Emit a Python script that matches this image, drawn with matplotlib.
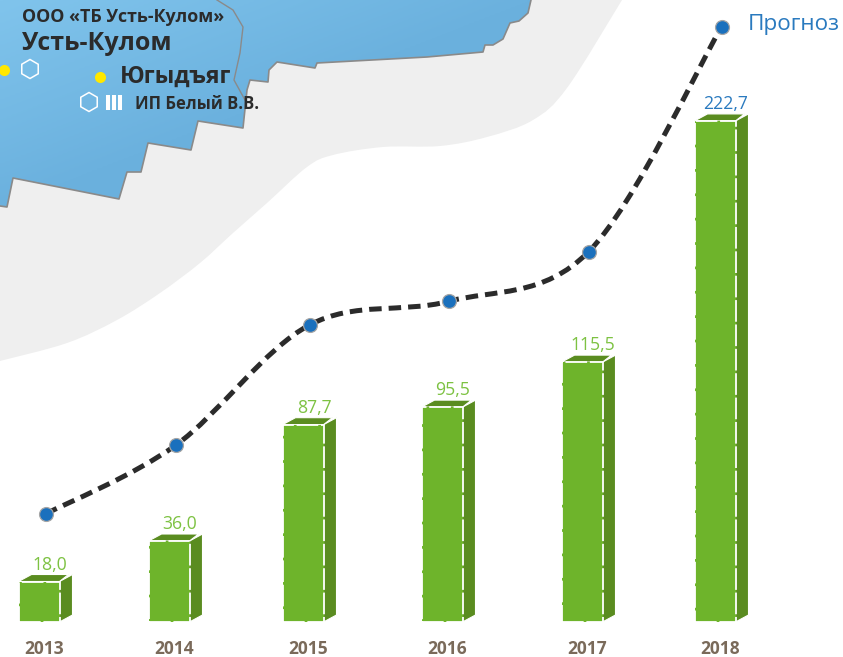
import numpy as np
import matplotlib
matplotlib.use("Agg")
import matplotlib.pyplot as plt
from matplotlib.colors import LinearSegmentedColormap
from matplotlib.patches import PathPatch, Polygon, RegularPolygon
from matplotlib.path import Path

plt.rcParams['font.family'] = ['Open Sans', 'DejaVu Sans']

years = ['2013', '2014', '2015', '2016', '2017', '2018']
volumes = [18.0, 36.0, 87.7, 95.5, 115.5, 222.7]
volume_labels = ['18,0', '36,0', '87,7', '95,5', '115,5', '222,7']
trend = [48.0, 78.5, 132.0, 142.5, 164.5, 264.5]

# столбцы расставлены в оригинале неравномерно
bar_x = [39, 169, 303, 442, 582, 715]

# контуры карты на фоне, в пикселях картинки
grey_x = [622, 567, 533, 487, 440, 383, 333, 307, 267, 233, 200, 160, 117, 67, 0]
grey_y = [0, 88, 120, 137, 146, 147, 155, 167, 203, 233, 263, 293, 320, 343, 361]
blue_x = [0, 531, 528, 519, 510, 503, 493, 485, 483, 427, 317, 315, 277, 269, 268, 250, 247, 243,
          198, 191, 148, 141, 127, 119, 13, 7, 0]
blue_y = [0, 0, 13, 21, 23, 39, 45, 45, 52, 57, 63, 68, 62, 70, 82, 80, 90, 128,
          121, 150, 143, 172, 172, 199, 178, 207, 206]
river_x = [217, 233, 243, 240, 234, 245]
river_y = [0, 10, 27, 53, 80, 100]

GREEN_FRONT = '#6eb42b'
GREEN_DARK = '#5a8c20'
DARK_TEXT = '#2b2b2b'
BLUE = '#1a70bd'

W, H = 843, 657
PX_PER_UNIT = 2.25
BASE_Y = 622
DEPTH_X = 13
DEPTH_Y = 7 / PX_PER_UNIT
BAR_W = 41


def smooth_path(xs, ys):
    """Сглаженная кривая через точки (Катмулл-Ром в виде кривых Безье)."""
    pts = np.column_stack([xs, ys])
    verts = [pts[0]]
    codes = [Path.MOVETO]
    for i in range(len(pts) - 1):
        p0 = pts[max(i - 1, 0)]
        p1 = pts[i]
        p2 = pts[i + 1]
        p3 = pts[min(i + 2, len(pts) - 1)]
        verts += [p1 + (p2 - p0) / 6, p2 - (p3 - p1) / 6, p2]
        codes += [Path.CURVE4] * 3
    return Path(verts, codes)


fig = plt.figure(figsize=(W / 100, H / 100), dpi=100)

# фон: карта в пиксельных координатах
bg = fig.add_axes([0, 0, 1, 1])
bg.axis('off')

edge = smooth_path(grey_x, grey_y)
grey_path = Path(list(edge.vertices) + [(0, 0), (0, 0)],
                 list(edge.codes) + [Path.LINETO, Path.CLOSEPOLY])
bg.add_patch(PathPatch(grey_path, fc='#efefef', ec='none'))

cmap = LinearSegmentedColormap.from_list('map', ['#80c4ec', '#6bb1de', '#66abd9'])
gx, gy = np.meshgrid(np.linspace(0, 1, 100), np.linspace(0, 1, 100))
im = bg.imshow(gx + gy, cmap=cmap, extent=[0, 531, 207, 0], aspect='auto', zorder=1)
blue_shape = Polygon(np.column_stack([blue_x, blue_y]), closed=True, fc='none', ec='none', zorder=2)
bg.add_patch(blue_shape)
im.set_clip_path(blue_shape)
bg.plot(blue_x[1:], blue_y[1:], color='#8a8a8a', lw=1.2, zorder=2)
bg.plot(river_x, river_y, color='#8a8a8a', lw=1.0, zorder=2)
bg.set_xlim(0, W)
bg.set_ylim(H, 0)

bg.text(22, 17, 'ООО «ТБ Усть-Кулом»', fontsize=12.9, fontweight='bold', color=DARK_TEXT,
        va='center', zorder=3)
bg.text(22, 44, 'Усть-Кулом', fontsize=18, fontweight='bold', color=DARK_TEXT,
        va='center', zorder=3)
bg.text(120, 77, 'Югыдъяг', fontsize=16.6, fontweight='bold', color=DARK_TEXT,
        va='center', zorder=3)
bg.text(135, 104, 'ИП Белый В.В.', fontsize=12, fontweight='bold', color=DARK_TEXT,
        va='center', zorder=3)

bg.plot([4, 100], [70, 77], 'o', color='#ffe800', ms=8, mew=0, ls='none', zorder=3)
for cx, cy in [(30, 69), (89, 102)]:
    bg.add_patch(RegularPolygon((cx, cy), 6, radius=9.5, fc='none', ec='white', lw=1.1, zorder=3))
for cx in [108, 114, 120]:
    bg.plot([cx, cx], [95, 110], color='white', lw=2.9, solid_capstyle='butt', zorder=3)

# столбцы и линия: ось значений
ax = fig.add_axes([0, 0, 1, 1], facecolor='none')
ax.set_xlim(0, W)
ax.set_ylim((BASE_Y - H) / PX_PER_UNIT, BASE_Y / PX_PER_UNIT)
ax.axis('off')

ax.bar(bar_x, volumes, width=BAR_W, color=GREEN_FRONT, edgecolor='white', linewidth=1.3,
       linestyle=(0, (12, 1.5)), zorder=3)

for x, v, label, year in zip(bar_x, volumes, volume_labels, years):
    right = x + BAR_W / 2
    left = x - BAR_W / 2
    side = [(right, 0), (right + DEPTH_X, DEPTH_Y), (right + DEPTH_X, v + DEPTH_Y), (right, v)]
    top = [(left, v), (left + DEPTH_X, v + DEPTH_Y), (right + DEPTH_X - 4, v + DEPTH_Y), (right, v)]
    ax.add_patch(Polygon(side, closed=True, fc=GREEN_DARK, ec='white', lw=0.8, zorder=2))
    ax.add_patch(Polygon(top, closed=True, fc=GREEN_DARK, ec='white', lw=0.8, zorder=2))

    color = '#2a7abf' if year == '2018' else '#7dc242'
    ax.annotate(label, (x + 11, v), xytext=(0, 17), textcoords='offset pixels', ha='center',
                va='center', fontsize=12.7, color=color)
    ax.annotate(year, (x + 5, 0), xytext=(0, -27), textcoords='offset pixels', ha='center',
                va='center', fontsize=12.5, fontweight='bold', color='#7a6a5a')

line_x = [x + DEPTH_X / 2 for x in bar_x]
ax.add_patch(PathPatch(smooth_path(line_x, trend), fc='none', ec='#2b2b2b', lw=3.6,
                       linestyle=(0, (2.5, 1.4)), capstyle='butt', zorder=4))
ax.plot(line_x, trend, 'o', color=BLUE, ms=10, mec='#a5a5a5', mew=0.9, ls='none', zorder=5)

ax.annotate('Прогноз', (line_x[-1], trend[-1]), xytext=(26, 2), textcoords='offset pixels',
            va='center', fontsize=16.2, color='#2a7abf')

fig.savefig('out.png', dpi=100)
plt.close(fig)
